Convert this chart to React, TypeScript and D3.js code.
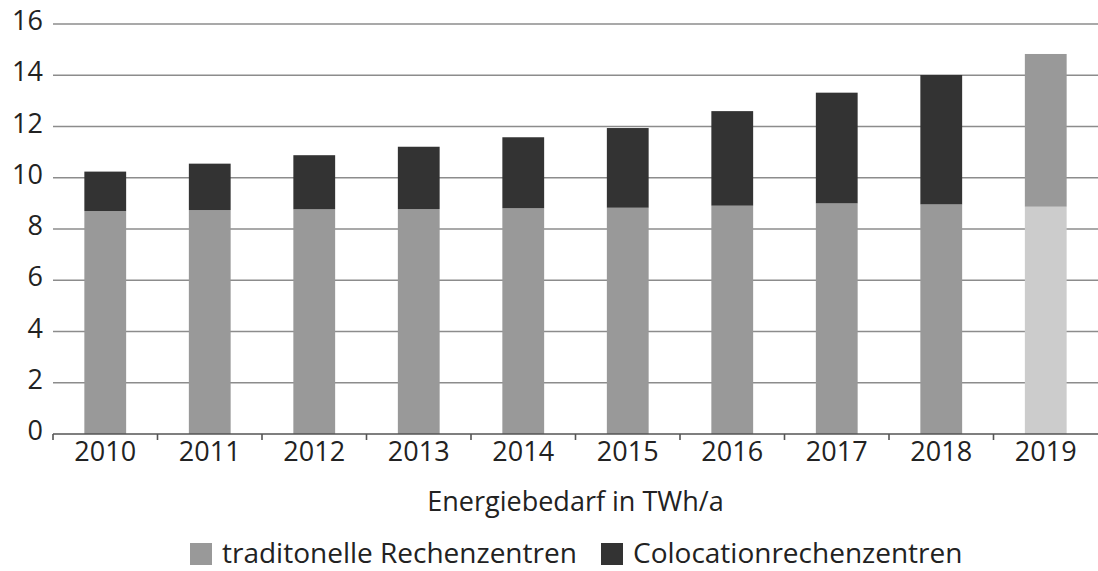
import React, { useEffect, useRef } from 'react'
import * as d3 from 'd3'

const years = ['2010', '2011', '2012', '2013', '2014', '2015', '2016', '2017', '2018', '2019']
const traditionell = [8.70, 8.74, 8.77, 8.78, 8.81, 8.83, 8.91, 9.00, 8.96, 8.87]
const colocation = [1.54, 1.81, 2.11, 2.43, 2.77, 3.11, 3.69, 4.32, 5.05, 5.96]
const yTicks = [0, 2, 4, 6, 8, 10, 12, 14, 16]
const seriesNames = ['traditonelle Rechenzentren', 'Colocationrechenzentren']
const seriesColors = ['#999999', '#333333']
// last year is drawn in lighter shades
const lastColors = ['#cccccc', '#999999']

const W = 1098, H = 571
const FONT = '"Open Sans", "Noto Sans", sans-serif'

function App() {
    const ref = useRef<SVGSVGElement>(null)

    useEffect(() => {
        const svg = d3.select(ref.current)
        svg.selectAll('*').remove()

        const left = 53, right = 1098, top = 24, bottom = 434

        const x = d3.scaleBand<string>()
            .domain(years)
            .range([left, right])
            .paddingInner(0.6)
            .paddingOuter(0.3)

        const y = d3.scaleLinear().domain([0, 16]).range([bottom, top])

        // grid
        svg.append('g')
            .selectAll('line')
            .data(yTicks.filter(d => d > 0))
            .enter()
            .append('line')
            .attr('x1', left)
            .attr('x2', right)
            .attr('y1', d => y(d))
            .attr('y2', d => y(d))
            .attr('stroke', '#8c8c8c')
            .attr('stroke-width', 1.6)

        // y labels
        svg.append('g')
            .selectAll('text')
            .data(yTicks)
            .enter()
            .append('text')
            .attr('x', 43)
            .attr('y', d => y(d) + 6)
            .attr('text-anchor', 'end')
            .attr('font-family', FONT)
            .attr('font-size', 27)
            .attr('fill', '#222')
            .text(d => d)

        // stacked bars
        const rows = years.map((yr, i) => ({ year: yr, t: traditionell[i], c: colocation[i], i }))
        const g = svg.append('g')
        rows.forEach(r => {
            const cols = r.i === years.length - 1 ? lastColors : seriesColors
            g.append('rect')
                .attr('x', x(r.year)!)
                .attr('width', x.bandwidth())
                .attr('y', y(r.t))
                .attr('height', y(0) - y(r.t))
                .attr('fill', cols[0])
            g.append('rect')
                .attr('x', x(r.year)!)
                .attr('width', x.bandwidth())
                .attr('y', y(r.t + r.c))
                .attr('height', y(r.t) - y(r.t + r.c))
                .attr('fill', cols[1])
        })

        // x axis
        svg.append('line')
            .attr('x1', left)
            .attr('x2', right)
            .attr('y1', bottom)
            .attr('y2', bottom)
            .attr('stroke', '#555')
            .attr('stroke-width', 1.6)

        svg.append('g')
            .selectAll('line')
            .data(years)
            .enter()
            .append('line')
            .attr('x1', d => x(d)! - x.step() * 0.3)
            .attr('x2', d => x(d)! - x.step() * 0.3)
            .attr('y1', bottom)
            .attr('y2', bottom + 6)
            .attr('stroke', '#555')
            .attr('stroke-width', 1.6)

        svg.append('g')
            .selectAll('text')
            .data(years)
            .enter()
            .append('text')
            .attr('x', d => x(d)! + x.bandwidth() / 2)
            .attr('y', 461)
            .attr('text-anchor', 'middle')
            .attr('font-family', FONT)
            .attr('font-size', 27)
            .attr('fill', '#222')
            .text(d => d)

        // axis title
        svg.append('text')
            .attr('x', (left + right) / 2)
            .attr('y', 511)
            .attr('text-anchor', 'middle')
            .attr('font-family', FONT)
            .attr('font-size', 27)
            .attr('fill', '#222')
            .text('Energiebedarf in TWh/a')

        // legend
        const legX = [190, 601]
        seriesNames.forEach((name, i) => {
            svg.append('rect')
                .attr('x', legX[i])
                .attr('y', 543)
                .attr('width', 22)
                .attr('height', 22)
                .attr('fill', seriesColors[i])
            svg.append('text')
                .attr('x', legX[i] + 32)
                .attr('y', 563)
                .attr('font-family', FONT)
                .attr('font-size', 28)
                .attr('fill', '#222')
                .text(name)
        })
    }, [])

    return (
        <svg ref={ref} width={W} height={H} style={{ position: 'absolute', left: 0, top: 0, background: '#fff' }}></svg>
    )
}

export default App
